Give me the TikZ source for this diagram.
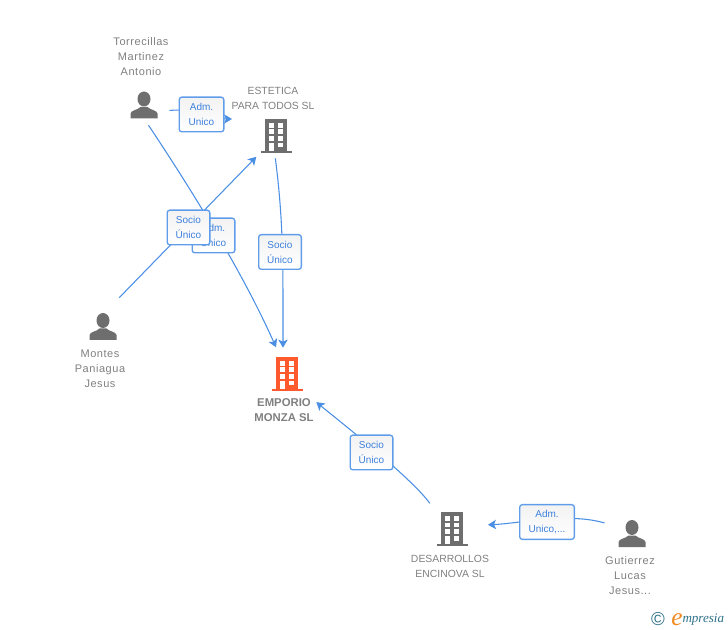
\documentclass[tikz,border=0pt]{standalone}
\usepackage{fontspec}
\setmainfont{Liberation Sans}
\newfontfamily\logofont{Liberation Serif}
\usetikzlibrary{arrows.meta}
\definecolor{linkblue}{HTML}{4A8FE3}
\definecolor{boxblue}{HTML}{5F9DEA}
\definecolor{boxtext}{HTML}{3D80DC}
\definecolor{icongray}{HTML}{6E6E6E}
\definecolor{labelgray}{HTML}{808080}
\definecolor{iconorange}{HTML}{FF5A2D}
\definecolor{logoteal}{HTML}{2F7189}
\definecolor{logoorange}{HTML}{F08A1E}
\newcommand{\buildingicon}{%
    \fill (-15.5,15) rectangle (15.5,17);
    \fill (-11,-17) rectangle (11,15);
    \foreach \rowy in {-13,-6.5,0} {
        \fill[white] (-7,\rowy) rectangle (-2,\rowy+4.6);
        \fill[white] (2.3,\rowy) rectangle (7.3,\rowy+4.6);
    }
    \fill[white] (2.3,7) rectangle (7.3,11.5);
    \fill[white] (-7,7) rectangle (-2,15);
}
\tikzstyle{icon}=[inner sep=0, outer sep=0]
\tikzstyle{person}=[icon, minimum size=20.25pt, path picture={
    \begin{scope}[shift={(path picture bounding box.center)}]
        \fill[icongray] (0,-6) ellipse (6.5 and 7.5);
        \fill[icongray] (-13.5,13.5) -- (-13.5,8.5) .. controls (-13,5) and (-6,5) .. (-3.5,2)
            -- (3.5,2) .. controls (6,5) and (13,5) .. (13.5,8.5) -- (13.5,13.5) -- cycle;
    \end{scope}}]
\tikzstyle{building}=[icon, minimum width=24pt, minimum height=25.5pt, path picture={
    \begin{scope}[shift={(path picture bounding box.center)}, icongray]
        \buildingicon
    \end{scope}}]
\tikzstyle{mainbuilding}=[icon, minimum width=24pt, minimum height=25.5pt, path picture={
    \begin{scope}[shift={(path picture bounding box.center)}, iconorange]
        \buildingicon
    \end{scope}}]
\tikzstyle{namelabel}=[inner sep=0, align=center, text=labelgray,
                       font=\fontsize{8.25}{11.25}\selectfont\addfontfeature{LetterSpace=5}]
\tikzstyle{capslabel}=[namelabel, font=\fontsize{7.8}{11.25}\selectfont]
\tikzstyle{link}=[draw=linkblue, line width=0.8pt, -{Stealth[length=6pt, width=7pt, inset=1.5pt]}]
\tikzstyle{rolebox}=[draw=boxblue, line width=1pt, rounded corners=2pt, top color=black!5, bottom color=white,
                     inner sep=0, align=center, text=boxtext, minimum width=32pt, minimum height=26pt,
                     font=\fontsize{7.5}{11.25}\selectfont]
\begin{document}
\begin{tikzpicture}[x=0.75pt, y=-0.75pt]
    \useasboundingbox (0,0) rectangle (728,630);
    % Companies and people.
    \node[person]       (torrecillas) at (144,105) {};
    \node[person]       (montes)      at (103,326.5) {};
    \node[person]       (gutierrez)   at (632,533.5) {};
    \node[building]     (estetica)    at (276,136) {};
    \node[mainbuilding] (emporio)     at (287,374) {};
    \node[building]     (desarrollos) at (452,529) {};
    \node[namelabel] (torrecillasname) at (141,57)  {Torrecillas\\Martinez\\Antonio};
    \node[capslabel] (esteticaname)    at (273,98) {ESTETICA\\PARA TODOS SL};
    \node[namelabel] (montesname)      at (100,369) {Montes\\Paniagua\\Jesus};
    \node[capslabel, font=\fontsize{8.5}{11.25}\selectfont\bfseries] (emporioname) at (284,410.5) {EMPORIO\\MONZA SL};
    \node[capslabel] (desarrollosname) at (450,566) {DESARROLLOS\\ENCINOVA SL};
    \node[namelabel] (gutierrezname)   at (630,576) {Gutierrez\\Lucas\\Jesus...};
    % Links, the role boxes go on top of them.
    \draw[link, shorten <=9pt, shorten >=21pt] (torrecillas.-25) .. controls +(40,-3) and +(-40,0) .. (estetica.north west);
    \draw[link, shorten <=6pt, shorten >=8pt] (torrecillas.south) .. controls +(40,60) and +(-40,-90) .. ([xshift=-5pt]emporio.north);
    \draw[link, shorten <=16pt, shorten >=4pt] ([xshift=1pt]montes.north) -- (estetica.south west);
    \draw[link, shorten <=4pt, shorten >=7pt] ([xshift=-1pt]estetica.south) .. controls +(9,70) and +(0,-90) .. ([xshift=-3pt]emporio.north);
    \draw[link, shorten <=8pt, shorten >=13pt] (desarrollos.north west) .. controls +(-25,-35) and +(30,25) .. (emporio.south east);
    \draw[link, shorten <=11pt, shorten >=15pt] (gutierrez.155) .. controls +(-50,-15) and +(50,-2) .. (desarrollos.12);
    \node[rolebox, minimum width=33.5pt] (admtorrecillas) at (201.5,114.5) {Adm.\\Unico};
    \node[rolebox] (admemporio)    at (213.5,235.5) {Adm.\\Unico};
    \node[rolebox] (sociomontes)   at (188.5,227.5) {Socio\\Único};
    \node[rolebox] (socioestetica) at (280,252)     {Socio\\Único};
    \node[rolebox] (sociodesa)     at (371.5,452.5) {Socio\\Único};
    \node[rolebox, minimum width=41pt] (admgutierrez) at (547,522) {Adm.\\Unico,...};
    % Logo in the corner.
    \node[inner sep=0, text=logoteal, font=\fontsize{14}{14}\selectfont] (copyrightmark) at (658,619.5) {\textcopyright};
    \node[inner sep=0, anchor=base west, text=logoteal, font=\logofont\itshape\fontsize{9.8}{12}\selectfont] (logo) at (671,622.5)
        {\raisebox{-2.5pt}{\color{logoorange}\fontsize{19}{19}\selectfont e}mpresia};
\end{tikzpicture}
\end{document}
